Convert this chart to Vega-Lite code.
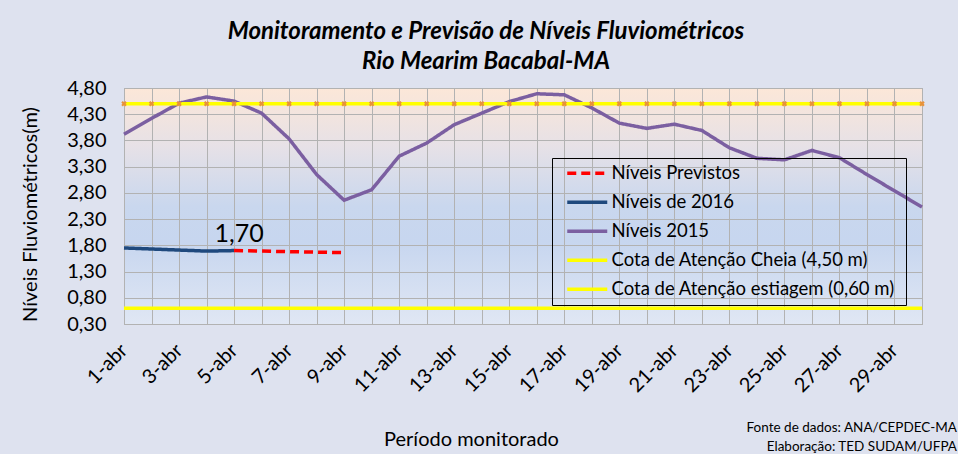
{
  "$schema": "https://vega.github.io/schema/vega-lite/v6.json",
  "width": 798,
  "height": 236,
  "autosize": {"type": "none"},
  "padding": {"left": 124, "top": 88, "right": 36, "bottom": 130},
  "background": "#DEE2EF",
  "title": {
    "text": ["Monitoramento  e Previsão de Níveis Fluviométricos", "Rio Mearim  Bacabal-MA"],
    "font": "Lato",
    "fontSize": 24,
    "fontStyle": "italic",
    "fontWeight": "bold",
    "color": "#000000",
    "anchor": "middle",
    "dx": -37,
    "offset": 4,
    "lineHeight": 30
  },
  "data": {
    "values": [
      {"dia": 1, "n2015": 3.92, "n2016": 1.75, "cheia": 4.5, "estiagem": 0.6},
      {"dia": 2, "n2015": 4.22, "n2016": 1.73, "cheia": 4.5, "estiagem": 0.6},
      {"dia": 3, "n2015": 4.51, "n2016": 1.71, "cheia": 4.5, "estiagem": 0.6},
      {"dia": 4, "n2015": 4.63, "n2016": 1.69, "cheia": 4.5, "estiagem": 0.6},
      {"dia": 5, "n2015": 4.55, "n2016": 1.70, "previstos": 1.70, "cheia": 4.5, "estiagem": 0.6},
      {"dia": 6, "n2015": 4.32, "previstos": 1.69, "cheia": 4.5, "estiagem": 0.6},
      {"dia": 7, "n2015": 3.83, "previstos": 1.68, "cheia": 4.5, "estiagem": 0.6},
      {"dia": 8, "n2015": 3.15, "previstos": 1.67, "cheia": 4.5, "estiagem": 0.6},
      {"dia": 9, "n2015": 2.66, "previstos": 1.66, "cheia": 4.5, "estiagem": 0.6},
      {"dia": 10, "n2015": 2.86, "cheia": 4.5, "estiagem": 0.6},
      {"dia": 11, "n2015": 3.50, "cheia": 4.5, "estiagem": 0.6},
      {"dia": 12, "n2015": 3.75, "cheia": 4.5, "estiagem": 0.6},
      {"dia": 13, "n2015": 4.10, "cheia": 4.5, "estiagem": 0.6},
      {"dia": 14, "n2015": 4.32, "cheia": 4.5, "estiagem": 0.6},
      {"dia": 15, "n2015": 4.54, "cheia": 4.5, "estiagem": 0.6},
      {"dia": 16, "n2015": 4.69, "cheia": 4.5, "estiagem": 0.6},
      {"dia": 17, "n2015": 4.67, "cheia": 4.5, "estiagem": 0.6},
      {"dia": 18, "n2015": 4.42, "cheia": 4.5, "estiagem": 0.6},
      {"dia": 19, "n2015": 4.13, "cheia": 4.5, "estiagem": 0.6},
      {"dia": 20, "n2015": 4.03, "cheia": 4.5, "estiagem": 0.6},
      {"dia": 21, "n2015": 4.11, "cheia": 4.5, "estiagem": 0.6},
      {"dia": 22, "n2015": 3.99, "cheia": 4.5, "estiagem": 0.6},
      {"dia": 23, "n2015": 3.66, "cheia": 4.5, "estiagem": 0.6},
      {"dia": 24, "n2015": 3.46, "cheia": 4.5, "estiagem": 0.6},
      {"dia": 25, "n2015": 3.43, "cheia": 4.5, "estiagem": 0.6},
      {"dia": 26, "n2015": 3.61, "cheia": 4.5, "estiagem": 0.6},
      {"dia": 27, "n2015": 3.47, "cheia": 4.5, "estiagem": 0.6},
      {"dia": 28, "n2015": 3.15, "cheia": 4.5, "estiagem": 0.6},
      {"dia": 29, "n2015": 2.84, "cheia": 4.5, "estiagem": 0.6},
      {"dia": 30, "n2015": 2.53, "cheia": 4.5, "estiagem": 0.6}
    ]
  },
  "encoding": {
    "x": {
      "field": "dia",
      "type": "quantitative",
      "scale": {"domain": [1, 30], "nice": false, "zero": false},
      "axis": {
        "values": [1,2,3,4,5,6,7,8,9,10,11,12,13,14,15,16,17,18,19,20,21,22,23,24,25,26,27,28,29,30],
        "labelExpr": "datum.value % 2 == 1 ? datum.value + '-abr' : ''",
        "labelAngle": -45,
        "labelAlign": "right",
        "labelBaseline": "middle",
        "labelPadding": 23,
        "labelOverlap": false,
        "labelFlush": false,
        "labelFont": "Lato",
        "labelFontSize": 20,
        "labelColor": "#000000",
        "ticks": false,
        "domain": false,
        "grid": true,
        "gridColor": "#B2B2B2",
        "gridWidth": 1,
        "title": "Período monitorado",
        "titleFont": "Lato",
        "titleFontSize": 20,
        "titleFontWeight": "normal",
        "titleColor": "#000000",
        "titleX": 347,
        "titleY": 115,
        "titleBaseline": "middle"
      }
    },
    "y": {
      "field": "valor",
      "type": "quantitative",
      "scale": {"domain": [0.3, 4.8], "nice": false, "zero": false},
      "axis": {
        "values": [0.3, 0.8, 1.3, 1.8, 2.3, 2.8, 3.3, 3.8, 4.3, 4.8],
        "format": ".2f",
        "labelFont": "Lato",
        "labelFontSize": 20,
        "labelColor": "#000000",
        "labelPadding": 18,
        "ticks": false,
        "domain": false,
        "grid": true,
        "gridColor": "#B2B2B2",
        "gridWidth": 1,
        "title": "Níveis Fluviométricos(m)",
        "titleFont": "Lato",
        "titleFontSize": 20,
        "titleFontWeight": "normal",
        "titleColor": "#000000",
        "titleX": -94,
        "titleY": 126,
        "titleAngle": -90,
        "titleAlign": "center",
        "titleBaseline": "middle"
      }
    }
  },
  "layer": [
    {
      "transform": [
        {"fold": ["previstos", "n2016", "n2015", "cheia", "estiagem"], "as": ["serie", "valor"]},
        {"filter": "isValid(datum.valor)"}
      ],
      "mark": {"type": "line", "strokeWidth": 3.5, "strokeCap": "butt"},
      "encoding": {
        "color": {
          "field": "serie",
          "type": "nominal",
          "scale": {
            "domain": ["previstos", "n2016", "n2015", "cheia", "estiagem"],
            "range": ["#FF0000", "#1F497D", "#7B5FA1", "#FFFF00", "#FFFF00"]
          },
          "legend": {
            "title": null,
            "orient": "none",
            "legendX": 428,
            "legendY": 70,
            "direction": "vertical",
            "strokeColor": "#000000",
            "padding": 6,
            "symbolType": "M0,0H8",
            "symbolSize": 100,
            "symbolStrokeWidth": 3.5,
            "labelOffset": 35,
            "rowPadding": 10,
            "labelFont": "Lato",
            "labelFontSize": 18.5,
            "labelColor": "#000000",
            "labelLimit": 400,
            "labelExpr": "datum.label == 'previstos' ? 'Níveis Previstos' : datum.label == 'n2016' ? 'Níveis de 2016' : datum.label == 'n2015' ? 'Níveis 2015' : datum.label == 'cheia' ? 'Cota de Atenção Cheia (4,50 m)' : 'Cota de Atenção estiagem  (0,60 m)'"
          }
        },
        "strokeDash": {
          "field": "serie",
          "type": "nominal",
          "scale": {
            "domain": ["previstos", "n2016", "n2015", "cheia", "estiagem"],
            "range": [[9, 5], [1, 0], [1, 0], [1, 0], [1, 0]]
          },
          "legend": {
            "title": null,
            "orient": "none",
            "legendX": 428,
            "legendY": 70,
            "direction": "vertical",
            "strokeColor": "#000000",
            "padding": 6,
            "symbolType": "M0,0H8",
            "symbolSize": 100,
            "symbolStrokeWidth": 3.5,
            "labelOffset": 35,
            "rowPadding": 10,
            "labelFont": "Lato",
            "labelFontSize": 18.5,
            "labelColor": "#000000",
            "labelLimit": 400,
            "labelExpr": "datum.label == 'previstos' ? 'Níveis Previstos' : datum.label == 'n2016' ? 'Níveis de 2016' : datum.label == 'n2015' ? 'Níveis 2015' : datum.label == 'cheia' ? 'Cota de Atenção Cheia (4,50 m)' : 'Cota de Atenção estiagem  (0,60 m)'"
          }
        },
        "order": {"field": "dia", "type": "quantitative"}
      }
    },
    {
      "mark": {"type": "point", "shape": "cross", "angle": 45, "filled": true, "size": 30, "color": "#E8913A", "opacity": 1},
      "encoding": {
        "y": {"field": "cheia", "type": "quantitative"}
      }
    },
    {
      "transform": [{"filter": "datum.dia == 5"}],
      "mark": {"type": "text", "font": "Lato", "fontSize": 25, "color": "#000000", "baseline": "bottom", "align": "center", "dx": 5, "dy": -4},
      "encoding": {
        "y": {"field": "n2016", "type": "quantitative"},
        "text": {"field": "n2016", "type": "quantitative", "format": ".2f"}
      }
    },
    {
      "data": {"values": [{"nota": ["Fonte de dados: ANA/CEPDEC-MA", "Elaboração: TED SUDAM/UFPA"]}]},
      "mark": {"type": "text", "font": "Lato", "fontSize": 13.5, "color": "#000000", "align": "right", "baseline": "middle", "lineHeight": 19, "dx": 35, "dy": 104},
      "encoding": {
        "x": {"value": "width"},
        "y": {"value": "height"},
        "text": {"field": "nota", "type": "nominal"}
      }
    }
  ],
  "config": {
    "locale": {"number": {"decimal": ",", "thousands": ".", "grouping": [3], "currency": ["R$", ""]}},
    "view": {
      "stroke": "#A6A6A6",
      "strokeWidth": 1,
      "fill": {
        "gradient": "linear",
        "x1": 0, "y1": 0, "x2": 0, "y2": 1,
        "stops": [
          {"offset": 0, "color": "#FCE7D8"},
          {"offset": 0.25, "color": "#E6E1E7"},
          {"offset": 0.5, "color": "#C9D7EE"},
          {"offset": 0.65, "color": "#C7D6EF"},
          {"offset": 1, "color": "#E0E7F4"}
        ]
      }
    }
  }
}
